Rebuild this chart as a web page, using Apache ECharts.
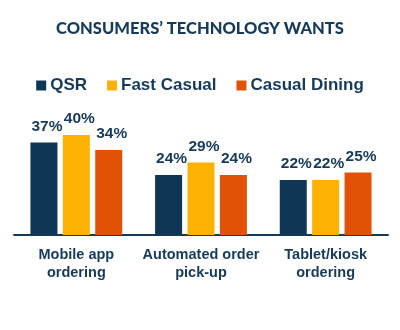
<!DOCTYPE html>
<html><head><meta charset="utf-8">
<script src="https://cdn.jsdelivr.net/npm/echarts@6/dist/echarts.min.js"></script>
<style>html,body{margin:0;padding:0;background:#fff}#c{width:400px;height:330px}</style>
</head><body><div id="c"></div>
<script>
const title = "CONSUMERS\u2019 TECHNOLOGY WANTS";
const categories = ["Mobile app\nordering", "Automated order\npick-up", "Tablet/kiosk\nordering"];
const seriesNames = ["QSR", "Fast Casual", "Casual Dining"];
const qsr = [37, 24, 22];
const fastCasual = [40, 29, 22];
const casualDining = [34, 24, 25];
const colors = ["#0f3654", "#fdb100", "#e25206"];
const navy = "#163b5a";

const dataSets = [qsr, fastCasual, casualDining];
const chart = echarts.init(document.getElementById('c'), null, {renderer: 'canvas'});
chart.setOption({
  animation: false,
  title: {
    text: title, left: 'center', top: 15,
    textStyle: {fontFamily: 'Lato', fontWeight: 900, fontSize: 16.5, color: navy}
  },
  legend: {
    top: 72, left: 'center', itemWidth: 10, itemHeight: 10, itemGap: 20,
    icon: 'rect',
    textStyle: {fontFamily: 'Liberation Sans, Arial', fontWeight: 'bold', fontSize: 17, color: navy, padding: [0,0,0,-1]},
    data: seriesNames
  },
  grid: {left: 14, right: 12, top: 85, bottom: 95, containLabel: false},
  xAxis: {
    type: 'category', data: categories,
    axisLine: {lineStyle: {color: navy, width: 2}},
    axisTick: {show: false},
    axisLabel: {fontFamily: 'Liberation Sans, Arial', fontWeight: 'bold', fontSize: 14.5, color: navy, lineHeight: 18, margin: 11, interval: 0}
  },
  yAxis: {type: 'value', min: 0, max: 60, show: false, splitLine: {show: false}},
  series: dataSets.map((d, i) => ({
    name: seriesNames[i], type: 'bar', data: d,
    barWidth: 27, barGap: '20%',
    itemStyle: {color: colors[i]},
    label: {show: true, position: 'top', distance: 8, offset: [3, 0], formatter: '{c}%',
      fontFamily: 'Liberation Sans, Arial', fontWeight: 'bold', fontSize: 15.5, color: navy}
  }))
});
</script></body></html>
